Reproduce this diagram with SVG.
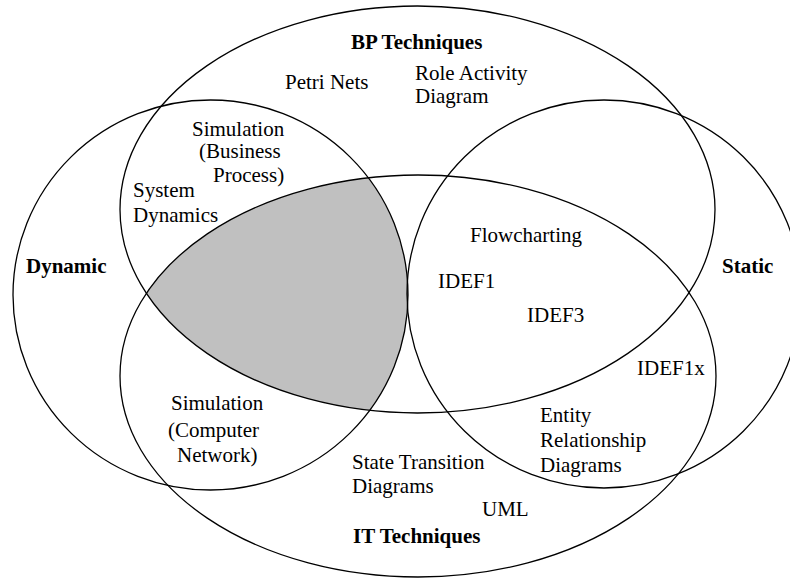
<svg xmlns="http://www.w3.org/2000/svg" width="790" height="581" viewBox="0 0 790 581">
  <style>
    .set { fill: none; stroke: #000; stroke-width: 1.3; }
    .t { font-family: "Liberation Serif", "Times New Roman", serif; font-size: 21px; fill: #000; }
    .b { font-family: "Liberation Serif", "Times New Roman", serif; font-size: 21px; font-weight: bold; fill: #000; }
  </style>
  <defs>
    <clipPath id="clipBP"><ellipse cx="417.5" cy="209.5" rx="297.5" ry="203.5"/></clipPath>
    <clipPath id="clipDyn"><ellipse cx="210.5" cy="295" rx="197.5" ry="195"/></clipPath>
  </defs>
  <rect width="790" height="581" fill="#fff"/>

  <!-- shaded intersection BP ∩ IT ∩ Dynamic -->
  <g id="shaded" clip-path="url(#clipBP)">
    <g clip-path="url(#clipDyn)">
      <ellipse cx="418" cy="376" rx="298" ry="201" fill="#c0c0c0"/>
    </g>
  </g>

  <g id="bp">
    <ellipse class="set" cx="417.5" cy="209.5" rx="297.5" ry="203.5"/>
    <text class="b" x="351" y="49">BP Techniques</text>
  </g>
  <g id="it">
    <ellipse class="set" cx="418" cy="376" rx="298" ry="201"/>
    <text class="b" x="353" y="543">IT Techniques</text>
  </g>
  <g id="dynamic">
    <ellipse class="set" cx="210.5" cy="295" rx="197.5" ry="195"/>
    <text class="b" x="26" y="273">Dynamic</text>
  </g>
  <g id="static">
    <ellipse class="set" cx="604" cy="294" rx="197" ry="194"/>
    <text class="b" x="722" y="273">Static</text>
  </g>

  <g id="connectors"></g>

  <g id="labels">
    <text class="t" x="285" y="89">Petri Nets</text>
    <text class="t" x="415" y="80">Role Activity</text>
    <text class="t" x="415" y="103">Diagram</text>
    <text class="t" x="192" y="136">Simulation</text>
    <text class="t" x="199" y="158">(Business</text>
    <text class="t" x="213" y="181.5">Process)</text>
    <text class="t" x="133" y="197">System</text>
    <text class="t" x="133" y="222">Dynamics</text>
    <text class="t" x="470" y="242">Flowcharting</text>
    <text class="t" x="438" y="288">IDEF1</text>
    <text class="t" x="527" y="322">IDEF3</text>
    <text class="t" x="637" y="375">IDEF1x</text>
    <text class="t" x="540" y="422">Entity</text>
    <text class="t" x="540" y="447">Relationship</text>
    <text class="t" x="540" y="472">Diagrams</text>
    <text class="t" x="171" y="410">Simulation</text>
    <text class="t" x="168" y="437">(Computer</text>
    <text class="t" x="177" y="462">Network)</text>
    <text class="t" x="352" y="469">State Transition</text>
    <text class="t" x="352" y="493">Diagrams</text>
    <text class="t" x="482" y="516">UML</text>
  </g>
</svg>
